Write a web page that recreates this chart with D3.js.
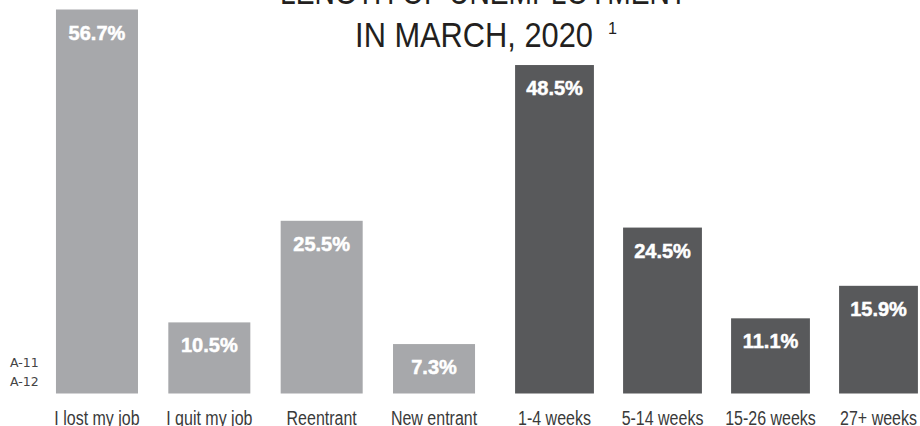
<!DOCTYPE html>
<html>
<head>
<meta charset="utf-8">
<script src="https://cdn.jsdelivr.net/npm/d3@7"></script>
<style>
  html, body { margin: 0; padding: 0; background: #fff; }
  svg { display: block; }
</style>
</head>
<body>
<svg id="chart" width="920" height="426"></svg>
<script>
const reasonCategories = ["I lost my job", "I quit my job", "Reentrant", "New entrant"];
const reasonValues = [56.7, 10.5, 25.5, 7.3];
const durationCategories = ["1-4 weeks", "5-14 weeks", "15-26 weeks", "27+ weeks"];
const durationValues = [48.5, 24.5, 11.1, 15.9];
const titleLines = ["LENGTH OF UNEMPLOYMENT", "IN MARCH, 2020"];
const footnoteMark = "1";
const pageCodes = ["A-11", "A-12"];

const colors = { reason: "#a7a8ab", duration: "#58595b" };
const sans = "'Liberation Sans', Arial, sans-serif";

const svg = d3.select("#chart");
const baseY = 393.5;

const xReason = d3.scaleBand()
  .domain(reasonCategories)
  .range([40.8, 490.2])
  .paddingInner(0.27)
  .paddingOuter(0.135);

const xDuration = d3.scaleBand()
  .domain(durationCategories)
  .range([500.5, 932.5])
  .paddingInner(0.27)
  .paddingOuter(0.135);

const y = d3.scaleLinear()
  .domain([0, 56.7])
  .range([baseY, 9.5]);

const groups = [
  { key: "reason", x: xReason, data: reasonCategories.map((c, i) => ({ c, v: reasonValues[i] })) },
  { key: "duration", x: xDuration, data: durationCategories.map((c, i) => ({ c, v: durationValues[i] })) }
];

// Title
const title = svg.append("g").attr("font-family", sans).attr("fill", "#231f20");
title.append("text")
  .attr("transform", "translate(483.5,4) scale(0.805,1)")
  .attr("text-anchor", "middle")
  .attr("font-size", 35)
  .text(titleLines[0]);
title.append("text")
  .attr("transform", "translate(474,47) scale(0.88,1)")
  .attr("text-anchor", "middle")
  .attr("font-size", 35)
  .text(titleLines[1]);
title.append("text")
  .attr("transform", "translate(608,34) scale(0.95,1)")
  .attr("font-size", 17)
  .text(footnoteMark);

groups.forEach(g => {
  const gx = g.x;
  const layer = svg.append("g");
  layer.selectAll("rect")
    .data(g.data)
    .join("rect")
    .attr("x", d => gx(d.c))
    .attr("width", gx.bandwidth())
    .attr("y", d => y(d.v))
    .attr("height", d => baseY - y(d.v))
    .attr("fill", colors[g.key]);

  layer.selectAll("text.val")
    .data(g.data)
    .join("text")
    .attr("class", "val")
    .attr("x", d => gx(d.c) + gx.bandwidth() / 2)
    .attr("y", d => y(d.v) + 30)
    .attr("text-anchor", "middle")
    .attr("font-family", sans)
    .attr("font-weight", "bold")
    .attr("font-size", 20)
    .attr("fill", "#ffffff")
    .attr("stroke", "#ffffff")
    .attr("stroke-width", 0.5)
    .text(d => d.v.toFixed(1) + "%");

  const ax = svg.append("g")
    .attr("transform", `translate(0, ${baseY})`)
    .call(d3.axisBottom(gx).tickSize(0).tickPadding(0));
  ax.select(".domain").remove();
  ax.selectAll("text")
    .attr("dy", null)
    .attr("y", null)
    .attr("transform", "translate(0,31.5) scale(0.82,1)")
    .attr("font-family", sans)
    .attr("font-size", 19.5)
    .attr("fill", "#3a3a3a");
});

// Page codes
svg.append("g").selectAll("text")
  .data(pageCodes)
  .join("text")
  .attr("x", 10)
  .attr("y", (d, i) => 367 + i * 19)
  .attr("font-family", "'DejaVu Sans', sans-serif")
  .attr("font-size", 12.5)
  .attr("fill", "#444444")
  .text(d => d);
</script>
</body>
</html>
